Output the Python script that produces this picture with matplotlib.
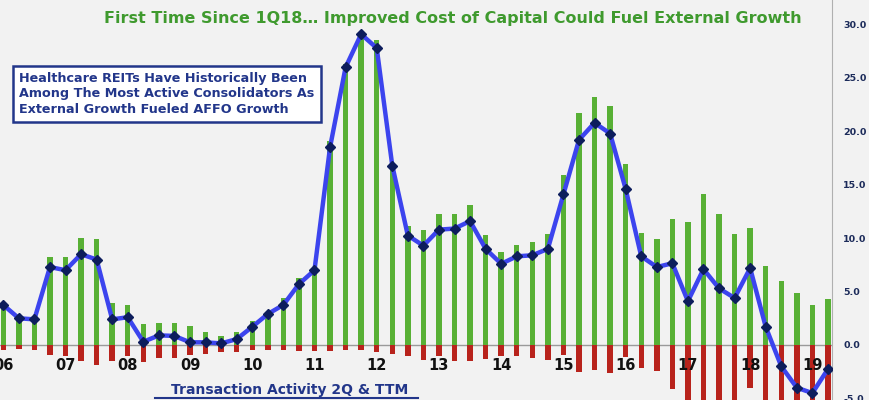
import numpy as np
import matplotlib.pyplot as plt

# quarterly, 1Q06 .. 2Q19
years = ['06', '07', '08', '09', '10', '11', '12', '13', '14', '15', '16', '17', '18', '19']

acquisitions = [3.9, 2.5, 2.5, 8.2, 8.2, 10.0, 9.9, 3.9, 3.75, 2.0, 2.1, 2.1, 1.8, 1.2,
                0.85, 1.25, 2.25, 3.1, 4.4, 6.3, 7.3, 19.1, 26.3, 29.1, 28.6, 17.0, 11.1, 10.8,
                12.3, 12.3, 13.1, 10.3, 8.7, 9.4, 9.6, 10.4, 15.9, 21.7, 23.2, 22.4, 16.9, 10.5,
                9.9, 11.8, 11.5, 14.1, 12.25, 10.4, 11.0, 7.4, 6.0, 4.9, 3.7, 4.3]

dispositions = [-0.5, -0.4, -0.5, -0.9, -1.0, -1.5, -1.9, -1.5, -1.0, -1.6, -1.25, -1.25, -0.9, -0.8,
                -0.7, -0.7, -0.5, -0.5, -0.5, -0.6, -0.6, -0.6, -0.5, -0.5, -0.7, -0.8, -1.0, -1.4,
                -1.0, -1.5, -1.5, -1.35, -1.0, -1.0, -1.25, -1.4, -0.9, -2.5, -2.3, -2.65, -1.1, -2.2,
                -2.4, -4.1, -6.5, -7.0, -7.0, -7.0, -4.0, -7.0, -7.0, -7.0, -6.0, -7.0]

net_ttm = [3.75, 2.5, 2.4, 7.3, 7.0, 8.5, 8.0, 2.4, 2.6, 0.3, 0.9, 0.85, 0.25, 0.25,
           0.15, 0.55, 1.7, 2.9, 3.75, 5.7, 7.0, 18.5, 26.0, 29.1, 27.8, 16.8, 10.25, 9.3,
           10.8, 10.9, 11.6, 9.0, 7.6, 8.3, 8.4, 9.0, 14.1, 19.2, 20.8, 19.8, 14.6, 8.3,
           7.3, 7.65, 4.1, 7.1, 5.3, 4.4, 7.2, 1.7, -2.0, -4.0, -4.5, -2.25]

bg = '#f2f2f2'
navy = '#22368a'
x = np.arange(len(acquisitions))

fig = plt.figure(figsize=(8.7, 4), dpi=100, facecolor=bg)
ax = fig.add_axes([0, 0, 832 / 870, 1])
ax.set_facecolor(bg)

ax.bar(x, acquisitions, width=0.35, color='#58b035', zorder=2)
ax.bar(x, dispositions, width=0.35, color='#b8231c', zorder=2)
ax.axhline(0, color='#9a9a9a', lw=1, zorder=1)
ax.plot(x, net_ttm, color='#3c44ee', lw=3.2, marker='D', ms=5.5,
        mfc='#0d1d5c', mec='#0d1d5c', zorder=3)

ax.set_xlim(-0.21, 53.26)
ax.set_ylim(-5.15, 32.3)
ax.yaxis.tick_right()
ax.set_yticks(np.arange(-5, 31, 5))
ax.set_yticklabels([f'{v:.1f}' for v in np.arange(-5, 31, 5)], fontsize=6.8,
                   fontweight='bold', color='#1c2b5a')
ax.tick_params(axis='y', length=0, pad=8)
ax.set_xticks([])
for s in ['top', 'left', 'bottom']:
    ax.spines[s].set_visible(False)
ax.spines['right'].set_color('#b0b0b0')

for i, yr in enumerate(years):
    ax.text(i * 4, -1.9, yr, ha='center', va='center', fontsize=10.5,
            fontweight='bold', color='#111111', zorder=4)

fig.text(0.52, 0.953, 'First Time Since 1Q18\u2026 Improved Cost of Capital Could Fuel External Growth',
         ha='center', va='center', fontsize=11.5, fontweight='bold', color='#3f9a2e')

fig.text(0.022, 0.765, 'Healthcare REITs Have Historically Been\nAmong The Most Active Consolidators As\nExternal Growth Fueled AFFO Growth',
         ha='left', va='center', fontsize=9.2, fontweight='bold', color=navy, linespacing=1.25,
         bbox=dict(boxstyle='square,pad=0.5', fc='white', ec=navy, lw=1.8))

fig.text(0.333, 0.026, 'Transaction Activity 2Q & TTM', ha='center', va='center',
         fontsize=10, fontweight='bold', color=navy)
fig.add_artist(plt.Line2D([155 / 870, 418 / 870], [0.004, 0.004], color=navy, lw=1.5))

fig.savefig('out.png', dpi=100, facecolor=bg)
